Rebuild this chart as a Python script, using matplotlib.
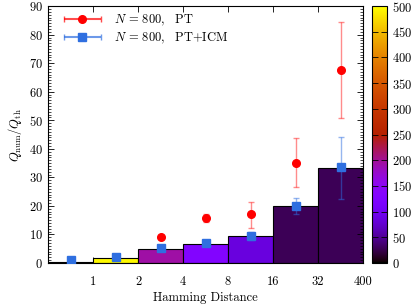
#!/usr/bin/env python3

import numpy as np
import matplotlib
matplotlib.use('Agg')
import matplotlib.pyplot as plt
from matplotlib.ticker import MultipleLocator
from matplotlib.legend_handler import HandlerErrorbar
import sys

# bins of the Hamming distance (drawn as equal-width categories)
edge_labels = ['1', '2', '4', '8', '16', '32', '400']
bar_height = [0.4, 1.8, 5.0, 6.6, 9.4, 19.9, 33.3]
bar_count = [10, 495, 195, 130, 85, 28, 28]

pt_val = [1.0, 2.0, 9.2, 15.8, 17.0, 35.2, 67.7]
pt_lo = [0.3, 0.3, 0.6, 1.5, 4.7, 8.7, 17.0]
pt_hi = [0.3, 0.3, 0.6, 1.5, 4.4, 8.6, 16.8]

icm_val = [1.0, 2.0, 5.2, 7.0, 9.6, 20.0, 33.5]
icm_lo = [0.2, 0.2, 0.3, 0.5, 1.5, 2.9, 11.0]
icm_hi = [0.2, 0.2, 0.3, 0.5, 1.4, 2.8, 10.8]


def main():
    plt.rcParams['font.family'] = 'serif'
    plt.rcParams['font.serif'] = ['cmr10', 'DejaVu Serif']
    plt.rcParams['mathtext.fontset'] = 'cm'
    plt.rcParams['axes.formatter.use_mathtext'] = True
    plt.rcParams['font.size'] = 9

    fig = plt.figure(figsize=(4.15, 3.06), dpi=100)
    ax = fig.add_axes([0.1157, 0.1405, 0.759, 0.8395])
    cax = fig.add_axes([0.896, 0.1405, 0.037, 0.8395])

    cmap = plt.get_cmap('gnuplot')
    norm = matplotlib.colors.Normalize(vmin=0, vmax=500)

    n = len(bar_height)
    xc = np.arange(n) + 0.5
    ax.bar(xc, bar_height, width=1.0, color=cmap(norm(np.array(bar_count))),
           edgecolor='black', linewidth=0.8, zorder=1)

    ax.errorbar(xc, pt_val, yerr=[pt_lo, pt_hi], fmt='o', color='red',
                ecolor=(1, 0, 0, 0.45), elinewidth=1.0, capsize=2, capthick=1.0,
                markersize=5.5, zorder=3)
    ax.errorbar(xc, icm_val, yerr=[icm_lo, icm_hi], fmt='s', color='#2f6fe0',
                ecolor=(0.18, 0.43, 0.88, 0.5), elinewidth=1.0, capsize=2, capthick=1.0,
                markersize=5.5, zorder=4)

    # proxies for the legend, drawn outside the view
    h1 = ax.errorbar([-5], [-5], xerr=[1], fmt='o', color='red', ecolor=(1, 0, 0, 0.7),
                     capsize=2, markersize=5.5, label=r'$N\,=\,800,$  PT')
    h2 = ax.errorbar([-5], [-5], xerr=[1], fmt='s', color='#2f6fe0',
                     ecolor=(0.18, 0.43, 0.88, 0.7), capsize=2, markersize=5.5,
                     label=r'$N\,=\,800,$  PT+ICM')

    ax.set_xlim(0, n)
    ax.set_ylim(0, 90)
    ax.set_xticks(np.arange(1, n + 1))
    ax.set_xticklabels(edge_labels)
    ax.yaxis.set_major_locator(MultipleLocator(10))
    ax.yaxis.set_minor_locator(MultipleLocator(1))
    ax.tick_params(which='both', direction='in', top=True, right=True)
    ax.tick_params(which='major', length=4, width=0.6)
    ax.tick_params(which='minor', length=2, width=0.5)
    ax.tick_params(axis='x', pad=9)
    for s in ax.spines.values():
        s.set_linewidth(0.8)

    ax.set_xlabel('Hamming Distance', labelpad=3)
    ax.set_ylabel(r'$Q_{\rm num}/Q_{\rm th}$')

    hm = {h1: HandlerErrorbar(xerr_size=1.5), h2: HandlerErrorbar(xerr_size=1.5)}
    ax.legend(handles=[h1, h2], handler_map=hm, loc='upper left',
              bbox_to_anchor=(0.022, 1.008), frameon=False,
              handlelength=3.0, handletextpad=1.0, borderaxespad=0.3,
              labelspacing=0.25, fontsize=9)

    sm = matplotlib.cm.ScalarMappable(norm=norm, cmap=cmap)
    cb = fig.colorbar(sm, cax=cax)
    cb.set_ticks(np.arange(0, 501, 50))
    cb.ax.tick_params(direction='in', length=4, width=0.6, left=True, right=True)
    cb.outline.set_linewidth(0.8)

    fig.savefig('out.png', dpi=100)


if __name__ == '__main__':
    sys.exit(main())
